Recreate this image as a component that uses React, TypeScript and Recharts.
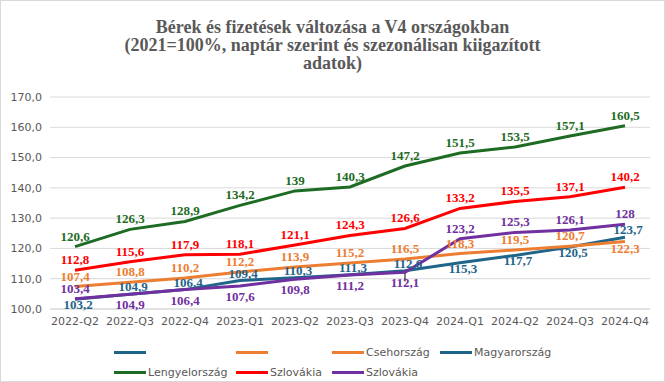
import React from 'react';
import { LineChart, Line, XAxis, YAxis, CartesianGrid, Legend, LabelList, ReferenceLine } from 'recharts';

const quarters = ['2022-Q2', '2022-Q3', '2022-Q4', '2023-Q1', '2023-Q2', '2023-Q3', '2023-Q4', '2024-Q1', '2024-Q2', '2024-Q3', '2024-Q4'];
const magyarorszag = [103.2, 104.9, 106.4, 109.4, 110.3, 111.3, 112.6, 115.3, 117.7, 120.5, 123.7];
const csehorszag = [107.4, 108.8, 110.2, 112.2, 113.9, 115.2, 116.5, 118.3, 119.5, 120.7, 122.3];
const lengyelorszag = [120.6, 126.3, 128.9, 134.2, 139, 140.3, 147.2, 151.5, 153.5, 157.1, 160.5];
const szlovakiaRed = [112.8, 115.6, 117.9, 118.1, 121.1, 124.3, 126.6, 133.2, 135.5, 137.1, 140.2];
const szlovakiaPurple = [103.4, 104.9, 106.4, 107.6, 109.8, 111.2, 112.1, 123.2, 125.3, 126.1, 128];
const yTicks = [100, 110, 120, 130, 140, 150, 160, 170];
const legendNames = ['', '', 'Csehország', 'Magyarország', 'Lengyelország', 'Szlovákia', 'Szlovákia'];
const titleLines = ['Bérek és fizetések változása a V4 országokban', '(2021=100%, naptár szerint és szezonálisan kiigazított', 'adatok)'];

// label placement: a = above, b = below
const magyarPos = ['b', 'a', 'a', 'a', 'a', 'a', 'a', 'b', 'b', 'b', 'a'];
const csehPos = ['a', 'a', 'a', 'a', 'a', 'a', 'a', 'a', 'a', 'a', 'b'];
const lengyelPos = ['a', 'a', 'a', 'a', 'a', 'a', 'a', 'a', 'a', 'a', 'a'];
const redPos = ['a', 'a', 'a', 'a', 'a', 'a', 'a', 'a', 'a', 'a', 'a'];
const purplePos = ['a', 'b', 'b', 'b', 'b', 'b', 'b', 'a', 'a', 'a', 'a'];

const TEAL = '#1F6489';
const ORANGE = '#ED7D31';
const GREEN = '#1E6B24';
const RED = '#FF0000';
const PURPLE = '#7030A0';

const legendColors = [TEAL, ORANGE, ORANGE, TEAL, GREEN, RED, PURPLE];

const data = quarters.map((q, i) => ({
  q,
  mag: magyarorszag[i],
  cseh: csehorszag[i],
  leng: lengyelorszag[i],
  red: szlovakiaRed[i],
  purple: szlovakiaPurple[i],
}));

const fmt = (v: number) => String(v).replace('.', ',');

const makeLabel = (color: string, pos: string[], above: number, below: number, dx: number) => (props: any) => {
  const { x, y, value, index } = props;
  const p = pos[index];
  const dy = p === 'a' ? above : below;
  return (
    <text x={x + dx} y={y + dy} textAnchor="middle" fill={color}
      style={{ fontFamily: 'Liberation Serif', fontWeight: 'bold', fontSize: 13 }}>
      {fmt(value)}
    </text>
  );
};

const legendCols = [114, 236, 332, 440];

const LegendContent = () => (
  <div style={{ position: 'relative', width: 665, height: 44, fontFamily: 'DejaVu Sans', fontSize: 11, color: '#595959' }}>
    {legendNames.map((n, i) => {
      const row = i < 4 ? 0 : 1;
      const col = i < 4 ? i : i - 4;
      return (
        <div key={i} style={{ position: 'absolute', left: legendCols[col], top: 6 + row * 20, display: 'flex', alignItems: 'center', height: 16 }}>
          <div style={{ width: 32, height: 3, background: legendColors[i] }} />
          <span style={{ marginLeft: 2, whiteSpace: 'nowrap' }}>{n}</span>
        </div>
      );
    })}
  </div>
);

export default function App() {
  return (
    <div style={{ position: 'absolute', left: 0, top: 0, width: 665, height: 382, background: '#fff', border: '1px solid #D9D9D9', boxSizing: 'border-box' }}>
      <div style={{ position: 'absolute', left: -1, top: 17, width: 665, textAlign: 'center', fontFamily: 'Liberation Serif', fontWeight: 'bold', fontSize: 18, lineHeight: '18px', color: '#595959', zIndex: 2 }}>
        {titleLines.map((t, i) => <div key={i}>{t}</div>)}
      </div>
      <div style={{ position: 'absolute', left: -1, top: -1 }}>
        <LineChart width={665} height={382} data={data} margin={{ top: 97, right: 15, bottom: 0, left: 0 }}>
          <CartesianGrid vertical={false} stroke="#D9D9D9" />
          <XAxis dataKey="q" axisLine={{ stroke: '#D9D9D9' }} tickLine={false} padding={{ left: 25, right: 25 }}
            tick={{ fill: '#595959', fontSize: 11, fontFamily: 'DejaVu Sans' }} height={29} interval={0} />
          <YAxis domain={[100, 170]} ticks={yTicks} width={50} axisLine={false} tickLine={false}
            tickFormatter={(v: number) => v.toFixed(1).replace('.', ',')}
            tick={{ fill: '#595959', fontSize: 11, fontFamily: 'DejaVu Sans' }} />
          <ReferenceLine segment={[{ x: '2023-Q4', y: 112.1 }, { x: '2023-Q4', y: 109.1 }]} stroke="#000" strokeWidth={1} />
          <Line type="linear" dataKey="mag" stroke={TEAL} strokeWidth={3} dot={false} isAnimationActive={false}>
            <LabelList dataKey="mag" content={makeLabel(TEAL, magyarPos, -3, 10, 3)} />
          </Line>
          <Line type="linear" dataKey="cseh" stroke={ORANGE} strokeWidth={3} dot={false} isAnimationActive={false}>
            <LabelList dataKey="cseh" content={makeLabel(ORANGE, csehPos, -6, 12, 0)} />
          </Line>
          <Line type="linear" dataKey="leng" stroke={GREEN} strokeWidth={3} dot={false} isAnimationActive={false}>
            <LabelList dataKey="leng" content={makeLabel(GREEN, lengyelPos, -6, 12, 0)} />
          </Line>
          <Line type="linear" dataKey="red" stroke={RED} strokeWidth={3} dot={false} isAnimationActive={false}>
            <LabelList dataKey="red" content={makeLabel(RED, redPos, -6, 12, 0)} />
          </Line>
          <Line type="linear" dataKey="purple" stroke={PURPLE} strokeWidth={3} dot={false} isAnimationActive={false}>
            <LabelList dataKey="purple" content={makeLabel(PURPLE, purplePos, -6, 15, 0)} />
          </Line>
          <Legend content={<LegendContent />} verticalAlign="bottom" wrapperStyle={{ left: 0, bottom: 0, width: 665, height: 44 }} />
        </LineChart>
      </div>
    </div>
  );
}
